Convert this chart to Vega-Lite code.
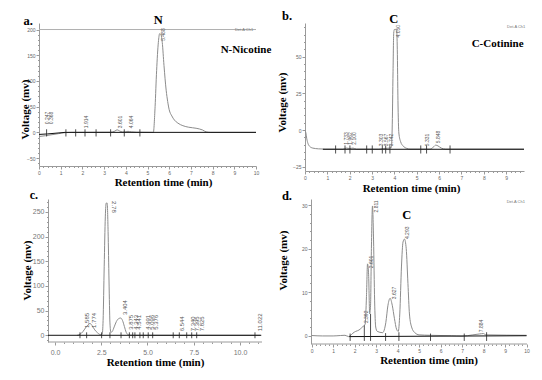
{
"$schema": "https://vega.github.io/schema/vega-lite/v6.json",
"autosize": {"type": "none"},
"padding": {"left": 39, "top": 23, "right": 503, "bottom": 357},
"background": "white",
"config": {
  "view": {"stroke": null},
  "axis": {"grid": false, "domainColor": "#9a9a9a", "tickColor": "#9a9a9a", "labelColor": "#666666", "labelFont": "Liberation Sans", "labelFontSize": 5, "labelPadding": 1, "titleFont": "Liberation Serif", "titleFontSize": 11, "titleFontWeight": "bold", "titleColor": "#000000", "labelFlush": false, "labelOverlap": false, "tickSize": 3}
},
"columns": 2,
"bounds": "flush",
"align": "each",
"spacing": {"row": 28, "column": 43},
"datasets": {
  "a_sig": [{"t":0,"v":-8},{"t":0.3,"v":-6.5},{"t":0.6,"v":-4.5},{"t":0.9,"v":-2.5},{"t":1.2,"v":-0.5},{"t":1.5,"v":0},{"t":3.3,"v":0.3},{"t":3.5,"v":2.5},{"t":3.6,"v":5},{"t":3.7,"v":3},{"t":3.85,"v":0.8},{"t":4.0,"v":1.2},{"t":4.1,"v":2},{"t":4.25,"v":1},{"t":4.5,"v":0.3},{"t":5.2,"v":0},{"t":5.27,"v":0},{"t":5.35,"v":50},{"t":5.42,"v":120},{"t":5.5,"v":175},{"t":5.56,"v":192},{"t":5.62,"v":190},{"t":5.68,"v":175},{"t":5.76,"v":130},{"t":5.86,"v":82},{"t":5.93,"v":60},{"t":6.0,"v":44},{"t":6.12,"v":32},{"t":6.24,"v":24},{"t":6.4,"v":18},{"t":6.63,"v":13},{"t":6.9,"v":10},{"t":7.24,"v":8},{"t":7.54,"v":4.6},{"t":7.7,"v":1},{"t":7.9,"v":0},{"t":10,"v":0}],
  "a_base": [{"t":0,"v":-4},{"t":0.4,"v":-3},{"t":1.2,"v":0},{"t":10,"v":0}],
  "a_mk": [{"t":0.35,"v":-8,"v2":6},{"t":1.24,"v":-8,"v2":6},{"t":1.69,"v":-8,"v2":6},{"t":2.12,"v":-8,"v2":6},{"t":2.63,"v":-8,"v2":6},{"t":3.3,"v":-8,"v2":6},{"t":3.93,"v":-8,"v2":6},{"t":4.65,"v":-8,"v2":6}],
  "a_pk": [{"t":0.35,"v":16,"label":"0.247"},{"t":0.54,"v":16,"label":"0.368"},{"t":2.15,"v":8,"label":"1.914"},{"t":3.73,"v":8,"label":"3.601"},{"t":4.25,"v":8,"label":"4.064"},{"t":5.72,"v":178,"label":"5.488"}],
  "a_txt": [{"t":-0.5,"v":216.6,"label":"a."},{"t":5.5,"v":218.5,"label":"N"}],
  "a_txt2": [{"t":9.54,"v":160,"label":"N-Nicotine"}],
  "a_det": [{"t":9.45,"v":199,"label":"Det.A Ch1"}],
  "a_top": [{"t":0,"t2":10,"v":200}],
  "b_sig": [{"t":0,"v":0},{"t":0.04,"v":-2},{"t":0.08,"v":-6},{"t":0.13,"v":-9},{"t":0.2,"v":-11},{"t":0.35,"v":-12.3},{"t":0.6,"v":-12.8},{"t":0.9,"v":-13},{"t":1.7,"v":-13},{"t":1.85,"v":-12.3},{"t":2.0,"v":-12.6},{"t":2.15,"v":-12.3},{"t":2.3,"v":-13},{"t":3.3,"v":-13},{"t":3.5,"v":-12.6},{"t":3.7,"v":-12.4},{"t":3.86,"v":-12},{"t":3.9,"v":0},{"t":3.94,"v":40},{"t":3.97,"v":66},{"t":4.0,"v":68.5},{"t":4.1,"v":68},{"t":4.13,"v":55},{"t":4.16,"v":20},{"t":4.2,"v":-2},{"t":4.28,"v":-8},{"t":4.4,"v":-11},{"t":4.55,"v":-12.5},{"t":4.7,"v":-13},{"t":5.6,"v":-13},{"t":5.75,"v":-11.5},{"t":5.85,"v":-10.3},{"t":5.95,"v":-10.8},{"t":6.1,"v":-12.3},{"t":6.3,"v":-13},{"t":9.8,"v":-13}],
  "b_base": [{"t":0.8,"v":-13.1},{"t":9.8,"v":-13.1}],
  "b_mk": [{"t":1.37,"v":-16,"v2":-10.5},{"t":1.79,"v":-16,"v2":-10.5},{"t":2.01,"v":-16,"v2":-10.5},{"t":2.76,"v":-16,"v2":-10.5},{"t":3.01,"v":-16,"v2":-10.5},{"t":3.46,"v":-16,"v2":-10.5},{"t":3.61,"v":-16,"v2":-10.5},{"t":3.8,"v":-16,"v2":-10.5},{"t":5.18,"v":-16,"v2":-10.5},{"t":5.44,"v":-16,"v2":-10.5},{"t":6.49,"v":-16,"v2":-10.5}],
  "b_pk": [{"t":1.84,"v":-10,"label":"1.733"},{"t":2.0,"v":-10,"label":"1.962"},{"t":2.2,"v":-10,"label":"2.100"},{"t":3.4,"v":-11,"label":"3.303"},{"t":3.63,"v":-11,"label":"3.567"},{"t":3.85,"v":-11,"label":"3.742"},{"t":4.15,"v":63,"label":"4.050"},{"t":5.45,"v":-11,"label":"5.331"},{"t":5.95,"v":-9,"label":"5.848"}],
  "b_txt": [{"t":-0.8,"v":77.7,"label":"b."},{"t":3.97,"v":75.6,"label":"C"}],
  "b_txt2": [{"t":8.62,"v":58.6,"label":"C-Cotinine"}],
  "b_det": [{"t":9.45,"v":70,"label":"Det.A Ch1"}],
  "c_sig": [{"t":1.2,"v":0},{"t":1.35,"v":2},{"t":1.5,"v":7},{"t":1.65,"v":15},{"t":1.78,"v":21},{"t":1.89,"v":24},{"t":2.0,"v":20},{"t":2.15,"v":11},{"t":2.3,"v":5},{"t":2.45,"v":1.5},{"t":2.55,"v":2},{"t":2.6,"v":30},{"t":2.66,"v":140},{"t":2.72,"v":240},{"t":2.77,"v":268},{"t":2.82,"v":268},{"t":2.87,"v":210},{"t":2.92,"v":110},{"t":2.97,"v":25},{"t":3.02,"v":6},{"t":3.1,"v":8},{"t":3.2,"v":17},{"t":3.32,"v":28},{"t":3.45,"v":34},{"t":3.55,"v":35},{"t":3.65,"v":30},{"t":3.75,"v":18},{"t":3.85,"v":6},{"t":3.96,"v":1},{"t":4.2,"v":0},{"t":11.1,"v":0}],
  "c_base": [{"t":-0.38,"v":0},{"t":11.15,"v":0}],
  "c_mk": [{"t":1.35,"v":-6,"v2":6},{"t":1.71,"v":-6,"v2":6},{"t":2.52,"v":-6,"v2":6},{"t":2.97,"v":-6,"v2":6},{"t":3.57,"v":-6,"v2":6},{"t":4.02,"v":-6,"v2":6},{"t":4.2,"v":-6,"v2":6},{"t":4.32,"v":-6,"v2":6},{"t":4.59,"v":-6,"v2":6},{"t":4.77,"v":-6,"v2":6},{"t":5.04,"v":-6,"v2":6},{"t":5.28,"v":-6,"v2":6},{"t":6.39,"v":-6,"v2":6},{"t":6.72,"v":-6,"v2":6},{"t":7.12,"v":-6,"v2":6},{"t":7.39,"v":-6,"v2":6},{"t":7.66,"v":-6,"v2":6},{"t":10.81,"v":-6,"v2":6}],
  "c_pk": [{"t":1.75,"v":15,"label":"1.585"},{"t":2.12,"v":15,"label":"1.774"},{"t":3.78,"v":41,"label":"3.404"},{"t":4.1,"v":11,"label":"3.875"},{"t":4.38,"v":11,"label":"4.343"},{"t":4.56,"v":11,"label":"4.541"},{"t":5.05,"v":11,"label":"4.991"},{"t":5.22,"v":11,"label":"5.096"},{"t":5.46,"v":11,"label":"5.376"},{"t":6.85,"v":8,"label":"6.544"},{"t":7.44,"v":8,"label":"7.340"},{"t":7.66,"v":8,"label":"7.395"},{"t":7.93,"v":8,"label":"7.825"},{"t":11.1,"v":8,"label":"11.022"}],
  "c_pk2": [{"t":3.2,"v":272,"label":"2.78"}],
  "c_txt": [{"t":-1.14,"v":285.3,"label":"c."}],
  "c_dom": [{"t":-0.38,"t2":11.19,"v":-13.6}],
  "d_sig": [{"t":0,"v":0.05},{"t":0.5,"v":-0.05},{"t":1.0,"v":-0.05},{"t":1.35,"v":0.05},{"t":1.55,"v":0.1},{"t":1.72,"v":-0.2},{"t":1.82,"v":0.1},{"t":1.92,"v":0.6},{"t":2.05,"v":1.0},{"t":2.2,"v":1.3},{"t":2.32,"v":1.8},{"t":2.43,"v":2.3},{"t":2.49,"v":2.7},{"t":2.55,"v":9},{"t":2.6,"v":16.5},{"t":2.65,"v":14},{"t":2.7,"v":5},{"t":2.74,"v":7},{"t":2.78,"v":20},{"t":2.83,"v":29.8},{"t":2.88,"v":22},{"t":2.93,"v":8},{"t":2.98,"v":2},{"t":3.05,"v":1},{"t":3.3,"v":0.7},{"t":3.45,"v":3},{"t":3.55,"v":7},{"t":3.65,"v":8.6},{"t":3.75,"v":7},{"t":3.85,"v":4},{"t":3.95,"v":1.5},{"t":4.03,"v":1},{"t":4.1,"v":5},{"t":4.18,"v":16},{"t":4.25,"v":21.5},{"t":4.32,"v":22.2},{"t":4.4,"v":20},{"t":4.48,"v":12},{"t":4.55,"v":5},{"t":4.65,"v":2},{"t":4.8,"v":0.7},{"t":5.0,"v":0.2},{"t":5.5,"v":0.1},{"t":6.5,"v":0},{"t":7.0,"v":-0.1},{"t":7.5,"v":0.2},{"t":7.8,"v":0.4},{"t":8.0,"v":0.5},{"t":8.1,"v":0.2},{"t":10,"v":0.1}],
  "d_base": [{"t":1.75,"v":-0.2},{"t":10,"v":0}],
  "d_mk": [{"t":1.79,"v":-1.2,"v2":0.5},{"t":2.45,"v":-1.2,"v2":2.4},{"t":2.74,"v":-1.2,"v2":5},{"t":3.44,"v":-1.2,"v2":0.6},{"t":4.06,"v":-1.2,"v2":0.8},{"t":5.53,"v":-1.2,"v2":0.5},{"t":7.1,"v":-1.2,"v2":0.5},{"t":8.14,"v":-1.2,"v2":0.8}],
  "d_pk": [{"t":2.55,"v":2.9,"label":"2.392"},{"t":2.75,"v":15.5,"label":"2.601"},{"t":3.0,"v":28.3,"label":"2.811"},{"t":3.84,"v":8.4,"label":"3.627"},{"t":4.45,"v":22.2,"label":"4.293"},{"t":7.9,"v":0.8,"label":"7.884"}],
  "d_txt": [{"t":-1.15,"v":32.1,"label":"d."},{"t":4.43,"v":27.7,"label":"C"}],
  "d_det": [{"t":9.5,"v":30.7,"label":"Det.A Ch1"}],
  "d_dom": [{"t":0,"t2":10.02,"v":-1.9}]
},
"concat": [
{
  "width": 217, "height": 143,
  "resolve": {"axis": {"x": "independent", "y": "independent"}},
  "layer": [
    {"data": {"name": "a_sig"}, "mark": {"type": "line", "color": "#8c8c8c", "strokeWidth": 1, "interpolate": "monotone"},
     "encoding": {
      "x": {"field": "t", "type": "quantitative", "scale": {"domain": [0, 10], "nice": false, "zero": false},
            "axis": {"orient": "bottom", "title": "Retention time (min)", "values": [0,1,2,3,4,5,6,7,8,9,10], "format": "d", "labelOverlap": false,
                     "titleX": 124, "titleY": 16, "titleBaseline": "middle", "titleAlign": "center"}},
      "y": {"field": "v", "type": "quantitative", "scale": {"domain": [-65.4, 212.7], "nice": false, "zero": false},
            "axis": {"orient": "left", "title": "Voltage (mv)", "values": [-50,0,50,100,150,200], "format": "d", "labelOverlap": false,
                     "titleX": -9, "titleY": 86, "titleAngle": 270, "titleBaseline": "bottom", "titleAlign": "center"}}
     }},
    {"data": {"name": "a_base"}, "mark": {"type": "line", "color": "#111111", "strokeWidth": 1},
     "encoding": {
      "x": {"field": "t", "type": "quantitative", "axis": {"orient": "bottom", "title": null, "labels": false, "domain": false, "tickSize": 1.5, "values": [0.2,0.4,0.6,0.8,1.2,1.4,1.6,1.8,2.2,2.4,2.6,2.8,3.2,3.4,3.6,3.8,4.2,4.4,4.6,4.8,5.2,5.4,5.6,5.8,6.2,6.4,6.6,6.8,7.2,7.4,7.6,7.8,8.2,8.4,8.6,8.8,9.2,9.4,9.6,9.8]}},
      "y": {"field": "v", "type": "quantitative", "axis": {"orient": "left", "title": null, "labels": false, "domain": false, "tickSize": 1.5, "values": [-60,-40,-30,-20,-10,10,20,30,40,60,70,80,90,110,120,130,140,160,170,180,190]}}}},
    {"data": {"name": "a_top"}, "mark": {"type": "rule", "color": "#b0b0b0", "strokeWidth": 1}, "encoding": {"x": {"field": "t", "type": "quantitative", "axis": null}, "x2": {"field": "t2"}, "y": {"field": "v", "type": "quantitative", "axis": null}}},
    {"data": {"name": "a_mk"}, "mark": {"type": "rule", "color": "#222222", "strokeWidth": 0.8}, "encoding": {"x": {"field": "t", "type": "quantitative", "axis": null}, "y": {"field": "v", "type": "quantitative", "axis": null}, "y2": {"field": "v2"}}},
    {"data": {"name": "a_pk"}, "mark": {"type": "text", "angle": 270, "align": "left", "baseline": "middle", "fontSize": 5, "font": "Liberation Sans", "color": "#555555"}, "encoding": {"x": {"field": "t", "type": "quantitative", "axis": null}, "y": {"field": "v", "type": "quantitative", "axis": null}, "text": {"field": "label"}}},
    {"data": {"name": "a_txt"}, "mark": {"type": "text", "align": "center", "baseline": "middle", "fontSize": 12.5, "font": "Liberation Serif", "fontWeight": "bold", "color": "#000000"}, "encoding": {"x": {"field": "t", "type": "quantitative", "axis": null}, "y": {"field": "v", "type": "quantitative", "axis": null}, "text": {"field": "label"}}},
    {"data": {"name": "a_txt2"}, "mark": {"type": "text", "align": "center", "baseline": "middle", "fontSize": 11, "font": "Liberation Serif", "fontWeight": "bold", "color": "#000000"}, "encoding": {"x": {"field": "t", "type": "quantitative", "axis": null}, "y": {"field": "v", "type": "quantitative", "axis": null}, "text": {"field": "label"}}},
    {"data": {"name": "a_det"}, "mark": {"type": "text", "align": "center", "baseline": "middle", "fontSize": 4, "font": "Liberation Sans", "color": "#777777"}, "encoding": {"x": {"field": "t", "type": "quantitative", "axis": null}, "y": {"field": "v", "type": "quantitative", "axis": null}, "text": {"field": "label"}}}
  ]
},
{
  "width": 219, "height": 148,
  "resolve": {"axis": {"x": "independent", "y": "independent"}},
  "layer": [
    {"data": {"name": "b_sig"}, "mark": {"type": "line", "color": "#8c8c8c", "strokeWidth": 1, "interpolate": "monotone"},
     "encoding": {
      "x": {"field": "t", "type": "quantitative", "scale": {"domain": [0, 9.8], "nice": false, "zero": false},
            "axis": {"orient": "bottom", "title": "Retention time (min)", "values": [0,1,2,3,4,5,6,7,8,9], "format": "d", "labelOverlap": false,
                     "titleX": 106, "titleY": 17, "titleBaseline": "middle", "titleAlign": "center"}},
      "y": {"field": "v", "type": "quantitative", "scale": {"domain": [-27.9, 72.9], "nice": false, "zero": false},
            "axis": {"orient": "left", "title": "Voltage (mv)", "values": [-25,0,25,50], "format": "d", "labelOverlap": false,
                     "titleX": -18, "titleY": 79, "titleAngle": 270, "titleBaseline": "bottom", "titleAlign": "center"}}
     }},
    {"data": {"name": "b_base"}, "mark": {"type": "line", "color": "#111111", "strokeWidth": 1},
     "encoding": {
      "x": {"field": "t", "type": "quantitative", "axis": {"orient": "bottom", "title": null, "labels": false, "domain": false, "tickSize": 1.5, "values": [0.2,0.4,0.6,0.8,1.2,1.4,1.6,1.8,2.2,2.4,2.6,2.8,3.2,3.4,3.6,3.8,4.2,4.4,4.6,4.8,5.2,5.4,5.6,5.8,6.2,6.4,6.6,6.8,7.2,7.4,7.6,7.8,8.2,8.4,8.6,8.8,9.2,9.4,9.6]}},
      "y": {"field": "v", "type": "quantitative", "axis": {"orient": "left", "title": null, "labels": false, "domain": false, "tickSize": 1.5, "values": [-20,-15,-10,-5,5,10,15,20,30,35,40,45,55,60,65,70]}}}},
    {"data": {"name": "b_mk"}, "mark": {"type": "rule", "color": "#222222", "strokeWidth": 0.8}, "encoding": {"x": {"field": "t", "type": "quantitative", "axis": null}, "y": {"field": "v", "type": "quantitative", "axis": null}, "y2": {"field": "v2"}}},
    {"data": {"name": "b_pk"}, "mark": {"type": "text", "angle": 270, "align": "left", "baseline": "middle", "fontSize": 5, "font": "Liberation Sans", "color": "#555555"}, "encoding": {"x": {"field": "t", "type": "quantitative", "axis": null}, "y": {"field": "v", "type": "quantitative", "axis": null}, "text": {"field": "label"}}},
    {"data": {"name": "b_txt"}, "mark": {"type": "text", "align": "center", "baseline": "middle", "fontSize": 12.5, "font": "Liberation Serif", "fontWeight": "bold", "color": "#000000"}, "encoding": {"x": {"field": "t", "type": "quantitative", "axis": null}, "y": {"field": "v", "type": "quantitative", "axis": null}, "text": {"field": "label"}}},
    {"data": {"name": "b_txt2"}, "mark": {"type": "text", "align": "center", "baseline": "middle", "fontSize": 11, "font": "Liberation Serif", "fontWeight": "bold", "color": "#000000"}, "encoding": {"x": {"field": "t", "type": "quantitative", "axis": null}, "y": {"field": "v", "type": "quantitative", "axis": null}, "text": {"field": "label"}}},
    {"data": {"name": "b_det"}, "mark": {"type": "text", "align": "center", "baseline": "middle", "fontSize": 4, "font": "Liberation Sans", "color": "#777777"}, "encoding": {"x": {"field": "t", "type": "quantitative", "axis": null}, "y": {"field": "v", "type": "quantitative", "axis": null}, "text": {"field": "label"}}}
  ]
},
{
  "width": 223, "height": 143,
  "resolve": {"axis": {"x": "independent", "y": "independent"}},
  "layer": [
    {"data": {"name": "c_sig"}, "mark": {"type": "line", "color": "#8c8c8c", "strokeWidth": 1, "interpolate": "monotone"},
     "encoding": {
      "x": {"field": "t", "type": "quantitative", "scale": {"domain": [-0.865, 11.19], "nice": false, "zero": false},
            "axis": {"orient": "bottom", "title": "Retention time (min)", "domain": false, "values": [0,2.5,5,7.5,10], "format": ".1f", "labelOverlap": false,
                     "labelFontSize": 7, "labelPadding": 3, "labelColor": "#777777",
                     "titleX": 116, "titleY": 20, "titleBaseline": "middle", "titleAlign": "center"}},
      "y": {"field": "v", "type": "quantitative", "scale": {"domain": [-13.6, 276.2], "nice": false, "zero": false},
            "axis": {"orient": "left", "title": "Voltage (mv)", "offset": -9, "values": [0,50,100,150,200,250], "format": "d", "labelOverlap": false,
                     "labelFontSize": 7, "labelColor": "#777777",
                     "titleX": -16, "titleY": 71, "titleAngle": 270, "titleBaseline": "bottom", "titleAlign": "center"}}
     }},
    {"data": {"name": "c_base"}, "mark": {"type": "line", "color": "#111111", "strokeWidth": 1},
     "encoding": {
      "x": {"field": "t", "type": "quantitative", "axis": {"orient": "bottom", "title": null, "labels": false, "domain": false, "tickSize": 1.5, "values": [0.5,1,1.5,2,3,3.5,4,4.5,5.5,6,6.5,7,8,8.5,9,9.5,10.5,11]}},
      "y": {"field": "v", "type": "quantitative", "axis": {"orient": "left", "offset": -9, "title": null, "labels": false, "domain": false, "tickSize": 1.5, "values": [-10,10,20,30,40,60,70,80,90,110,120,130,140,160,170,180,190,210,220,230,240,260,270]}}}},
    {"data": {"name": "c_dom"}, "mark": {"type": "rule", "color": "#9a9a9a", "strokeWidth": 1}, "encoding": {"x": {"field": "t", "type": "quantitative", "axis": null}, "x2": {"field": "t2"}, "y": {"field": "v", "type": "quantitative", "axis": null}}},
    {"data": {"name": "c_mk"}, "mark": {"type": "rule", "color": "#222222", "strokeWidth": 0.8}, "encoding": {"x": {"field": "t", "type": "quantitative", "axis": null}, "y": {"field": "v", "type": "quantitative", "axis": null}, "y2": {"field": "v2"}}},
    {"data": {"name": "c_pk"}, "mark": {"type": "text", "angle": 270, "align": "left", "baseline": "middle", "fontSize": 6, "font": "Liberation Sans", "color": "#555555"}, "encoding": {"x": {"field": "t", "type": "quantitative", "axis": null}, "y": {"field": "v", "type": "quantitative", "axis": null}, "text": {"field": "label"}}},
    {"data": {"name": "c_pk2"}, "mark": {"type": "text", "angle": 90, "align": "left", "baseline": "middle", "fontSize": 6, "font": "Liberation Sans", "color": "#555555"}, "encoding": {"x": {"field": "t", "type": "quantitative", "axis": null}, "y": {"field": "v", "type": "quantitative", "axis": null}, "text": {"field": "label"}}},
    {"data": {"name": "c_txt"}, "mark": {"type": "text", "align": "center", "baseline": "middle", "fontSize": 12, "font": "Liberation Serif", "fontWeight": "bold", "color": "#000000"}, "encoding": {"x": {"field": "t", "type": "quantitative", "axis": null}, "y": {"field": "v", "type": "quantitative", "axis": null}, "text": {"field": "label"}}}
  ]
},
{
  "width": 222, "height": 145,
  "resolve": {"axis": {"x": "independent", "y": "independent"}},
  "layer": [
    {"data": {"name": "d_sig"}, "mark": {"type": "line", "color": "#8c8c8c", "strokeWidth": 1, "interpolate": "monotone"},
     "encoding": {
      "x": {"field": "t", "type": "quantitative", "scale": {"domain": [-0.31, 10.02], "nice": false, "zero": false},
            "axis": {"orient": "bottom", "title": "Retention time (min)", "domain": false, "values": [0,1,2,3,4,5,6,7,8,9,10], "format": "d", "labelOverlap": false,
                     "titleX": 123.5, "titleY": 16, "titleBaseline": "middle", "titleAlign": "center"}},
      "y": {"field": "v", "type": "quantitative", "scale": {"domain": [-1.9, 31.4], "nice": false, "zero": false},
            "axis": {"orient": "left", "title": "Voltage (mv)", "offset": -6, "values": [0,10,20,30], "format": "d", "labelOverlap": false,
                     "titleX": -23, "titleY": 61, "titleAngle": 270, "titleBaseline": "bottom", "titleAlign": "center"}}
     }},
    {"data": {"name": "d_base"}, "mark": {"type": "line", "color": "#111111", "strokeWidth": 1},
     "encoding": {
      "x": {"field": "t", "type": "quantitative", "axis": {"orient": "bottom", "title": null, "labels": false, "domain": false, "tickSize": 1.5, "values": [0.2,0.4,0.6,0.8,1.2,1.4,1.6,1.8,2.2,2.4,2.6,2.8,3.2,3.4,3.6,3.8,4.2,4.4,4.6,4.8,5.2,5.4,5.6,5.8,6.2,6.4,6.6,6.8,7.2,7.4,7.6,7.8,8.2,8.4,8.6,8.8,9.2,9.4,9.6,9.8]}},
      "y": {"field": "v", "type": "quantitative", "axis": {"orient": "left", "offset": -6, "title": null, "labels": false, "domain": false, "tickSize": 1.5, "values": [2,4,6,8,12,14,16,18,22,24,26,28]}}}},
    {"data": {"name": "d_dom"}, "mark": {"type": "rule", "color": "#9a9a9a", "strokeWidth": 1}, "encoding": {"x": {"field": "t", "type": "quantitative", "axis": null}, "x2": {"field": "t2"}, "y": {"field": "v", "type": "quantitative", "axis": null}}},
    {"data": {"name": "d_mk"}, "mark": {"type": "rule", "color": "#222222", "strokeWidth": 0.8}, "encoding": {"x": {"field": "t", "type": "quantitative", "axis": null}, "y": {"field": "v", "type": "quantitative", "axis": null}, "y2": {"field": "v2"}}},
    {"data": {"name": "d_pk"}, "mark": {"type": "text", "angle": 270, "align": "left", "baseline": "middle", "fontSize": 5, "font": "Liberation Sans", "color": "#555555"}, "encoding": {"x": {"field": "t", "type": "quantitative", "axis": null}, "y": {"field": "v", "type": "quantitative", "axis": null}, "text": {"field": "label"}}},
    {"data": {"name": "d_txt"}, "mark": {"type": "text", "align": "center", "baseline": "middle", "fontSize": 12.5, "font": "Liberation Serif", "fontWeight": "bold", "color": "#000000"}, "encoding": {"x": {"field": "t", "type": "quantitative", "axis": null}, "y": {"field": "v", "type": "quantitative", "axis": null}, "text": {"field": "label"}}},
    {"data": {"name": "d_det"}, "mark": {"type": "text", "align": "center", "baseline": "middle", "fontSize": 4, "font": "Liberation Sans", "color": "#777777"}, "encoding": {"x": {"field": "t", "type": "quantitative", "axis": null}, "y": {"field": "v", "type": "quantitative", "axis": null}, "text": {"field": "label"}}}
  ]
}
]
}
